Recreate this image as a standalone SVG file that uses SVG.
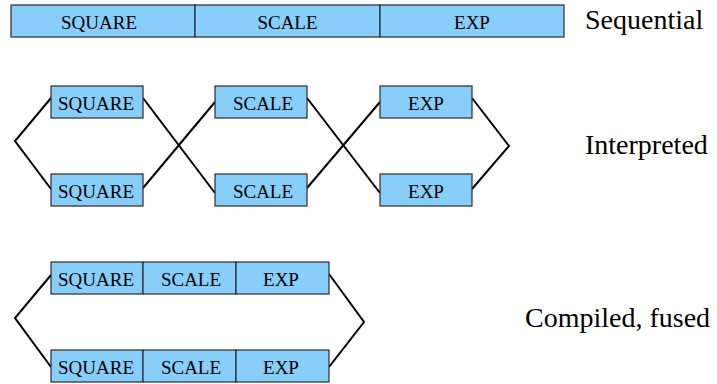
<svg xmlns="http://www.w3.org/2000/svg" width="717" height="384" viewBox="0 0 717 384">
<style>
.box{fill:#87CEFA;stroke:#2a2a2a;stroke-width:1.2}
.lbl{font-family:"Liberation Serif","Times New Roman",serif;font-size:19px;fill:#000;text-anchor:middle}
.side{font-family:"Liberation Serif","Times New Roman",serif;font-size:28px;fill:#000}
.conn{fill:none;stroke:#000;stroke-width:2;stroke-linejoin:miter}
</style>
<rect width="717" height="384" fill="#fff"/>
<g id="connectors">
<polyline class="conn" points="51,98 15,141 51,189"/>
<line class="conn" x1="143" y1="98" x2="215" y2="193"/>
<line class="conn" x1="143" y1="188" x2="215" y2="102"/>
<line class="conn" x1="307" y1="98" x2="380" y2="193"/>
<line class="conn" x1="307" y1="188" x2="380" y2="102"/>
<polyline class="conn" points="472,98 509,146 472,189"/>
<polyline class="conn" points="51,275 15,318 51,367"/>
<polyline class="conn" points="329,274 364,322 329,367"/>
</g>
<g id="seq-square"><rect class="box" x="11" y="5" width="184" height="32"/><text class="lbl" x="99" y="29">SQUARE</text></g>
<g id="seq-scale"><rect class="box" x="195" y="5" width="185" height="32"/><text class="lbl" x="287.5" y="29">SCALE</text></g>
<g id="seq-exp"><rect class="box" x="380" y="5" width="184" height="32"/><text class="lbl" x="472" y="29">EXP</text></g>
<g id="int-square-1"><rect class="box" x="51" y="86" width="92" height="32"/><text class="lbl" x="96" y="110">SQUARE</text></g>
<g id="int-square-2"><rect class="box" x="51" y="174" width="92" height="32"/><text class="lbl" x="96" y="198">SQUARE</text></g>
<g id="int-scale-1"><rect class="box" x="215" y="86" width="92" height="32"/><text class="lbl" x="263" y="110">SCALE</text></g>
<g id="int-scale-2"><rect class="box" x="215" y="174" width="92" height="32"/><text class="lbl" x="263" y="198">SCALE</text></g>
<g id="int-exp-1"><rect class="box" x="380" y="86" width="92" height="32"/><text class="lbl" x="426" y="110">EXP</text></g>
<g id="int-exp-2"><rect class="box" x="380" y="174" width="92" height="32"/><text class="lbl" x="426" y="198">EXP</text></g>
<g id="fused-1">
<rect class="box" x="51" y="262" width="92" height="32"/><text class="lbl" x="96" y="286">SQUARE</text>
<rect class="box" x="143" y="262" width="93" height="32"/><text class="lbl" x="191" y="286">SCALE</text>
<rect class="box" x="236" y="262" width="93" height="32"/><text class="lbl" x="281" y="286">EXP</text>
</g>
<g id="fused-2">
<rect class="box" x="51" y="350" width="92" height="32"/><text class="lbl" x="96" y="374">SQUARE</text>
<rect class="box" x="143" y="350" width="93" height="32"/><text class="lbl" x="191" y="374">SCALE</text>
<rect class="box" x="236" y="350" width="93" height="32"/><text class="lbl" x="281" y="374">EXP</text>
</g>
<g id="labels">
<text class="side" x="585" y="29">Sequential</text>
<text class="side" x="585" y="154">Interpreted</text>
<text class="side" x="525" y="327">Compiled, fused</text>
</g>
</svg>
